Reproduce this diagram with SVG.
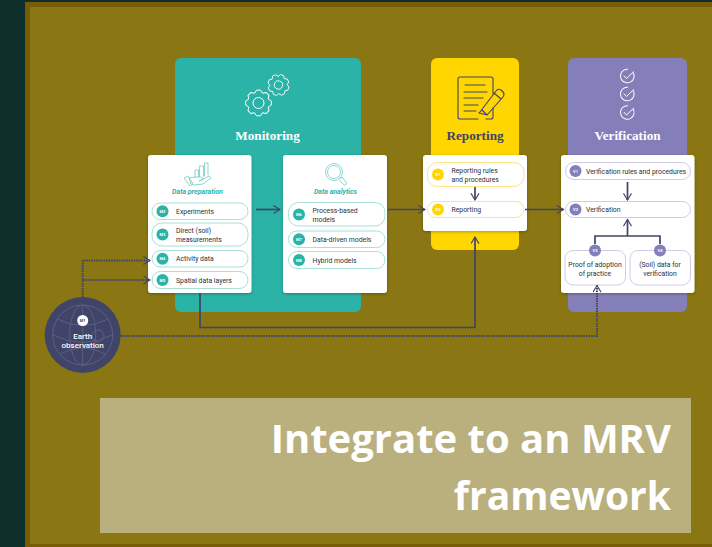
<svg xmlns="http://www.w3.org/2000/svg" width="712" height="547" viewBox="0 0 712 547">
<defs>
<style>
text{font-family:"Roboto","Liberation Sans",sans-serif}
.h{font-family:"Liberation Serif","DejaVu Serif",serif;font-size:13.200px;font-weight:700;text-anchor:middle}
.card{fill:#fff;filter:url(#sh)}
.t{font-size:6.850px;fill:#2b2f38}
.m{text-anchor:middle}
.b{font-size:4px;fill:#fff;text-anchor:middle;font-weight:700}
.g{fill:#fff;stroke:#a9e0d8;stroke-width:1}
.y{fill:#fff;stroke:#fbe58a;stroke-width:1}
.p{fill:#fff;stroke:#cfcbe4;stroke-width:1}
.sub{font-size:7px;font-style:italic;font-weight:700;fill:#2bb3a7;text-anchor:middle}
.c{fill:none;stroke:#3f4468;stroke-width:1.700}
.d{fill:none;stroke:#3f4468;stroke-width:2;stroke-dasharray:1.500 1}
.ic{fill:none;stroke:#fff;stroke-width:1}
.ig{fill:none;stroke:#7fd3ca;stroke-width:.9}
.iy{fill:none;stroke:#3f4468;stroke-width:1.100;stroke-linecap:round;stroke-linejoin:round}
.gl{fill:none;stroke:#5d6385;stroke-width:.9}
</style>
<filter id="sh" x="-10%" y="-10%" width="120%" height="120%"><feDropShadow dx="0" dy="1" stdDeviation="1.500" flood-color="#000" flood-opacity=".28"/></filter>
<marker id="a" markerWidth="9" markerHeight="10" refX="7.600" refY="4.500" orient="auto" markerUnits="userSpaceOnUse"><path d="M1 .5L7.600 4.500L1 8.500" fill="none" stroke="#3f4468" stroke-width="1.100"/></marker>
<g id="chk"><circle cx="0" cy="0" r="6.800" class="ic" stroke-dasharray="36 7" transform="rotate(-30)"/><path d="M-3.500-.5L-.8 2.500L6.500-4.500" class="ic"/></g>
<path id="tooth" d="M-4.020-9.700L-2.030-12.840H2.030L4.020-9.700" fill="none" stroke="#fff" stroke-width="1" stroke-linejoin="round"/>
<g id="gear">
<use href="#tooth"/><use href="#tooth" transform="rotate(45)"/><use href="#tooth" transform="rotate(90)"/><use href="#tooth" transform="rotate(135)"/><use href="#tooth" transform="rotate(180)"/><use href="#tooth" transform="rotate(225)"/><use href="#tooth" transform="rotate(270)"/><use href="#tooth" transform="rotate(315)"/>
</g>
</defs>
<rect width="712" height="547" fill="#0c2f2a"/>
<rect x="25" y="2" width="687" height="545" fill="#775c05"/>
<rect x="30" y="7" width="682" height="537" fill="#8a7713"/>

<g id="panel-monitoring">
<rect x="175" y="58" width="186" height="254" rx="6" fill="#2bb3a7"/>
<g transform="translate(258.500,103)" class="ic"><use href="#gear"/><circle r="5.500"/></g>
<g transform="translate(278.500,85) rotate(20) scale(.82)" class="ic"><use href="#gear"/><circle r="5"/></g>
<text class="h" x="267.500" y="140" fill="#fff">Monitoring</text>
</g>
<g id="panel-reporting">
<rect x="431" y="58" width="88" height="192" rx="6" fill="#ffd600"/>
<path d="M478 119H460Q458 119 458 117V79Q458 77 460 77H491Q493 77 493 79V94M493 108V117Q493 119 491 119H486" class="iy"/>
<path d="M465 85H485M464 92H487M464 98H483M464 105H478M464 111H476" class="iy"/>
<path d="M480 112L496 91Q498 88 501 90L503 92Q505 94 503 97L487 115L479 113ZM494 93L501 99M482 110L487 115" class="iy"/>
<text class="h" x="475" y="140" fill="#3f4468">Reporting</text>
</g>
<g id="panel-verification">
<rect x="568" y="58" width="119" height="254" rx="6" fill="#847eb9"/>
<use href="#chk" x="627.300" y="76"/>
<use href="#chk" x="627.300" y="94"/>
<use href="#chk" x="627.300" y="112.500"/>
<text class="h" x="627.500" y="140" fill="#fff">Verification</text>
</g>

<g id="node-data-preparation">
<rect class="card" x="148" y="155" width="103.500" height="138" rx="3"/>
<path d="M195 178V170H198.500V177M199.500 177V166H203.500V177M204.500 176V163H208V175" class="ig"/>
<path d="M189 178L195 177H201L204 179L199 181L209 176L211 178L203 184L194 185L191 184ZM188 176L193 184L190 186L184 178Z" class="ig"/>
<text class="sub" x="197.500" y="193.500">Data preparation</text>
<rect class="g" x="152" y="203" width="96" height="16.500" rx="8.250"/><circle cx="162.500" cy="211.200" r="6" fill="#2bb3a7"/><text class="b" x="162.500" y="212.700">M2</text><text class="t" x="176" y="213.700">Experiments</text>
<rect class="g" x="152" y="223" width="96" height="23" rx="10"/><circle cx="162.500" cy="234.500" r="6" fill="#2bb3a7"/><text class="b" x="162.500" y="236">M3</text><text class="t" x="176" y="233">Direct (soil)</text><text class="t" x="176" y="241.500">measurements</text>
<rect class="g" x="152" y="250.500" width="96" height="16.500" rx="8.250"/><circle cx="162.500" cy="258.800" r="6" fill="#2bb3a7"/><text class="b" x="162.500" y="260.300">M4</text><text class="t" x="176" y="261.200">Activity data</text>
<rect class="g" x="152" y="271.500" width="96" height="17" rx="8.500"/><circle cx="162.500" cy="280" r="6" fill="#2bb3a7"/><text class="b" x="162.500" y="281.500">M5</text><text class="t" x="176" y="282.500">Spatial data layers</text>
</g>

<g id="node-data-analytics">
<rect class="card" x="283" y="155" width="104" height="138" rx="3"/>
<circle cx="334" cy="172" r="8.500" class="ig"/><circle cx="334" cy="172" r="6.500" class="ig"/>
<path d="M340 178.500L342 177L346 182Q347.500 184 345.500 185Q344 185.500 343 184L339.500 180" class="ig"/>
<text class="sub" x="335.500" y="193.500">Data analytics</text>
<rect class="g" x="288.500" y="202.500" width="96.500" height="23.500" rx="10"/><circle cx="299" cy="214.500" r="6" fill="#2bb3a7"/><text class="b" x="299" y="216">M6</text><text class="t" x="312.500" y="213">Process-based</text><text class="t" x="312.500" y="221.500">models</text>
<rect class="g" x="288.500" y="231" width="96.500" height="16.500" rx="8.250"/><circle cx="299" cy="239.200" r="6" fill="#2bb3a7"/><text class="b" x="299" y="240.700">M7</text><text class="t" x="312.500" y="241.700">Data-driven models</text>
<rect class="g" x="288.500" y="251.500" width="96.500" height="17" rx="8.500"/><circle cx="299" cy="260" r="6" fill="#2bb3a7"/><text class="b" x="299" y="261.500">M8</text><text class="t" x="312.500" y="262.500">Hybrid models</text>
</g>

<g id="node-reporting">
<rect class="card" x="423" y="155" width="104" height="76" rx="3"/>
<rect class="y" x="427.500" y="162.500" width="96.500" height="24" rx="10"/><circle cx="438" cy="174.500" r="6" fill="#ffd600"/><text class="b" x="438" y="176">R1</text><text class="t" x="451.500" y="173">Reporting rules</text><text class="t" x="451.500" y="181.500">and procedures</text>
<rect class="y" x="427.500" y="201.500" width="96.500" height="16" rx="8"/><circle cx="438" cy="209.500" r="6" fill="#ffd600"/><text class="b" x="438" y="211">R2</text><text class="t" x="451.500" y="212">Reporting</text>
</g>

<g id="node-verification">
<rect class="card" x="561" y="155" width="133.500" height="138" rx="3"/>
<rect class="p" x="565.500" y="162.500" width="125" height="17" rx="8.500"/><circle cx="575.500" cy="171" r="6" fill="#847eb9"/><text class="b" x="575.500" y="172.500">V1</text><text class="t" x="586" y="173.500">Verification rules and procedures</text>
<rect class="p" x="565.500" y="201.500" width="125" height="16" rx="8"/><circle cx="575.500" cy="209.500" r="6" fill="#847eb9"/><text class="b" x="575.500" y="211">V2</text><text class="t" x="586" y="212">Verification</text>
<rect class="p" x="565" y="250.500" width="60.500" height="34.500" rx="8"/><text class="t m" x="595" y="267">Proof of adoption</text><text class="t m" x="595" y="275.500">of practice</text>
<rect class="p" x="630" y="250.500" width="60.500" height="34.500" rx="8"/><text class="t m" x="660" y="267">(Soil) data for</text><text class="t m" x="660" y="275.500">verification</text>
<circle cx="595" cy="250.500" r="6" fill="#847eb9"/><text class="b" x="595" y="252">V3</text>
<circle cx="660" cy="250.500" r="6" fill="#847eb9"/><text class="b" x="660" y="252">V4</text>
</g>

<g id="node-earth-observation">
<circle cx="82.700" cy="335" r="38" fill="#3f4468"/>
<circle cx="82.700" cy="335" r="30" class="gl"/>
<ellipse cx="82.700" cy="335" rx="13" ry="30" class="gl"/>
<path d="M82.700 305V365M57 319Q83 332 108 319M53 335Q83 350 112 335M60 354Q83 342 105 354" class="gl"/>
<circle cx="98" cy="336" r="6" class="gl"/>
<circle cx="82.700" cy="320.500" r="5.500" fill="#fff"/>
<text x="82.700" y="322" font-size="4px" font-weight="700" fill="#3f4468" text-anchor="middle">M1</text>
<text x="82.700" y="338.500" font-size="8px" font-weight="500" fill="#fff" text-anchor="middle">Earth</text>
<text x="82.700" y="348" font-size="8px" font-weight="500" fill="#fff" text-anchor="middle">observation</text>
</g>

<g id="connectors">
<path class="c" marker-end="url(#a)" d="M256 209.500H280"/>
<path class="c" marker-end="url(#a)" d="M388 209.500H425"/>
<path class="c" marker-end="url(#a)" d="M525 209.500H563.500"/>
<path class="c" marker-end="url(#a)" d="M200 293V327.500H475V237"/>
<path class="c" marker-end="url(#a)" d="M475 187V200"/>
<path class="c" marker-end="url(#a)" d="M627.500 182V200"/>
<path class="c" marker-end="url(#a)" d="M595 244V236H660V244M627.500 236V219.500"/>
<path class="d" marker-end="url(#a)" d="M82.700 297V260.500H150"/>
<path class="d" marker-end="url(#a)" d="M82.700 280H150"/>
<path class="d" marker-end="url(#a)" d="M121 336H597V285.500"/>
</g>

<g id="title">
<rect x="100" y="398" width="591" height="135" fill="#b9b07e"/>
<text x="671" y="453" style="font-family:'Open Sans','Liberation Sans',sans-serif" font-size="40" font-weight="700" fill="#fff" text-anchor="end">Integrate to an MRV</text>
<text x="671" y="510" style="font-family:'Open Sans','Liberation Sans',sans-serif" font-size="39" font-weight="700" fill="#fff" text-anchor="end">framework</text>
</g>
</svg>
